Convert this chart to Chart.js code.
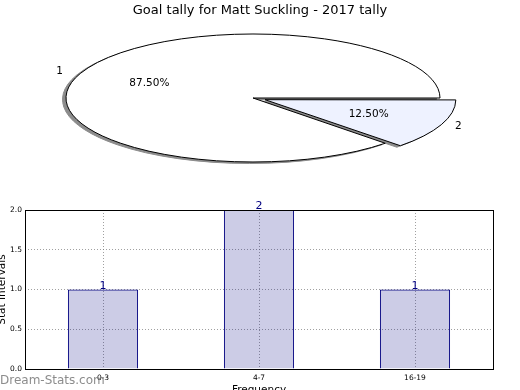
<!DOCTYPE html>
<html>
<head>
<meta charset="utf-8">
<script src="https://cdn.jsdelivr.net/npm/chart.js@4.4.1/dist/chart.umd.min.js"></script>
<style>
  html, body { margin: 0; padding: 0; background: #fff; overflow: hidden; width: 520px; height: 390px; }
  #pieWrap { position: absolute; left: 0; top: 0; width: 520px; height: 190px; }
  #barWrap { position: absolute; left: 0; top: 190px; width: 520px; height: 215px; }
</style>
</head>
<body>
<div id="pieWrap"><canvas id="pieChart" width="520" height="190"></canvas></div>
<div id="barWrap"><canvas id="barChart" width="520" height="215"></canvas></div>
<script>
const chartTitle = "Goal tally for Matt Suckling - 2017 tally";

const pieLabels = ["1", "2"];
const pieValues = [87.5, 12.5];
const pieColors = ["#ffffff", "#eef2ff"];
const pieExplode = [0, 52];

const barLabels = ["0-3", "4-7", "16-19"];
const barValues = [1, 2, 1];

const FONT = "'DejaVu Sans'";
const GRID = "rgba(120,120,120,0.7)";
const SHADOW = "#8c8c8c";
const SQUASH = 64 / 187; // pie is drawn as a flat ellipse
const PIE_SHIFT = -7;     // pie sits a little left of the title

function squash(ctx, arc) {
  ctx.translate(arc.x + PIE_SHIFT, arc.y);
  ctx.scale(1, SQUASH);
  ctx.translate(-arc.x, -arc.y);
}

const ellipsePlugin = {
  id: "ellipse",
  beforeDatasetsDraw(chart) {
    const ctx = chart.ctx;
    const arcs = chart.getDatasetMeta(0).data;
    const base = ctx.getTransform();
    const stroke = ctx.stroke;
    // stroke with the plain transform so outlines keep an even width
    ctx.stroke = function () {
      this.save();
      this.setTransform(base);
      stroke.call(this);
      this.restore();
    };
    // shadow under both wedges
    arcs.forEach((arc) => {
      const opts = arc.options;
      arc.options = Object.assign({}, opts, { backgroundColor: SHADOW, borderColor: SHADOW });
      ctx.save();
      ctx.translate(-3.5, 1.5);
      squash(ctx, arc);
      arc.draw(ctx);
      ctx.restore();
      arc.options = opts;
    });
    ctx.save();
    squash(ctx, arcs[0]);
  },
  afterDatasetsDraw(chart) {
    const ctx = chart.ctx;
    ctx.restore();
    delete ctx.stroke;
  },
};

const pieLabelPlugin = {
  id: "pieLabels",
  afterDraw(chart) {
    const ctx = chart.ctx;
    const arcs = chart.getDatasetMeta(0).data;
    const total = pieValues.reduce((a, b) => a + b, 0);
    ctx.save();
    ctx.font = `10.5px ${FONT}`;
    ctx.fillStyle = "#000";
    ctx.textBaseline = "middle";
    arcs.forEach((arc, i) => {
      const mid = (arc.startAngle + arc.endAngle) / 2;
      const push = pieExplode[i] / 4;
      const r = arc.outerRadius;
      const cx = arc.x + Math.cos(mid) * push;
      const cy = arc.y + Math.sin(mid) * push;
      const at = (f) => [
        cx + Math.cos(mid) * r * f + PIE_SHIFT,
        arc.y + (cy + Math.sin(mid) * r * f - arc.y) * SQUASH,
      ];
      let [x, y] = at(1.1);
      ctx.textAlign = Math.cos(mid) < 0 ? "right" : "left";
      ctx.fillText(pieLabels[i], x, y);
      [x, y] = at(0.6);
      ctx.textAlign = "center";
      ctx.fillText(((pieValues[i] / total) * 100).toFixed(2) + "%", x, y);
    });
    ctx.restore();
  },
};

const barExtras = {
  id: "barExtras",
  afterDatasetsDraw(chart) {
    const { ctx, chartArea: a } = chart;
    ctx.save();
    ctx.strokeStyle = "#000";
    ctx.lineWidth = 1;
    const l = Math.round(a.left) + 0.5;
    const t = Math.round(a.top) + 0.5;
    ctx.strokeRect(l, t, Math.round(a.right) - Math.round(a.left), Math.round(a.bottom) - Math.round(a.top));

    ctx.font = `11px ${FONT}`;
    ctx.fillStyle = "#000080";
    ctx.textAlign = "center";
    ctx.textBaseline = "alphabetic";
    chart.getDatasetMeta(0).data.forEach((bar, i) => {
      ctx.fillText(String(barValues[i]), bar.x, bar.y - 1);
    });
    ctx.restore();
  },
  afterDraw(chart) {
    const ctx = chart.ctx;
    ctx.save();
    ctx.font = `12px ${FONT}`;
    ctx.fillStyle = "rgba(120,120,120,0.85)";
    ctx.textAlign = "left";
    ctx.textBaseline = "alphabetic";
    ctx.fillText("Dream-Stats.com", 0, 194);
    ctx.restore();
  },
};

new Chart(document.getElementById("pieChart"), {
  type: "pie",
  data: {
    labels: pieLabels,
    datasets: [
      {
        data: pieValues,
        backgroundColor: pieColors,
        borderColor: "#000",
        borderWidth: 1,
        offset: pieExplode,
      },
    ],
  },
  options: {
    responsive: false,
    animation: false,
    rotation: 135,
    radius: 187,
    layout: { padding: { bottom: 12.6 } },
    plugins: {
      legend: { display: false },
      tooltip: { enabled: false },
      title: {
        display: true,
        text: chartTitle,
        color: "#000",
        font: { family: FONT, size: 13, weight: "normal" },
        padding: { top: 3, bottom: 0 },
      },
    },
  },
  plugins: [ellipsePlugin, pieLabelPlugin],
});

new Chart(document.getElementById("barChart"), {
  type: "bar",
  data: {
    labels: barLabels,
    datasets: [
      {
        data: barValues,
        backgroundColor: "rgba(0,0,128,0.2)",
        borderColor: "#000080",
        borderWidth: 1,
        barPercentage: 0.45,
        categoryPercentage: 1,
      },
    ],
  },
  options: {
    responsive: false,
    animation: false,
    layout: { padding: { top: 20, right: 27, left: 0, bottom: 0 } },
    plugins: { legend: { display: false }, tooltip: { enabled: false } },
    scales: {
      x: {
        grid: { offset: false, drawTicks: false, color: GRID },
        border: { display: false, dash: [1, 2] },
        ticks: { padding: 5, color: "#000", font: { family: FONT, size: 7.5 } },
        title: {
          display: true,
          text: "Frequency",
          color: "#000",
          font: { family: FONT, size: 10.5, lineHeight: 1 },
          padding: { top: 0, bottom: 9 },
        },
        afterFit: (s) => { s.height = 36; },
      },
      y: {
        min: 0,
        max: 2,
        grid: { drawTicks: false, color: GRID },
        border: { display: false, dash: [1, 2] },
        ticks: {
          stepSize: 0.5,
          padding: 3,
          color: "#000",
          font: { family: FONT, size: 7.5 },
          callback: (v) => v.toFixed(1),
        },
        title: {
          display: true,
          text: "Stat Intervals",
          color: "#000",
          font: { family: FONT, size: 10.5, lineHeight: 1 },
          padding: { top: -3, bottom: 0 },
        },
        afterFit: (s) => { s.width = 25; },
      },
    },
  },
  plugins: [barExtras],
});
</script>
</body>
</html>
